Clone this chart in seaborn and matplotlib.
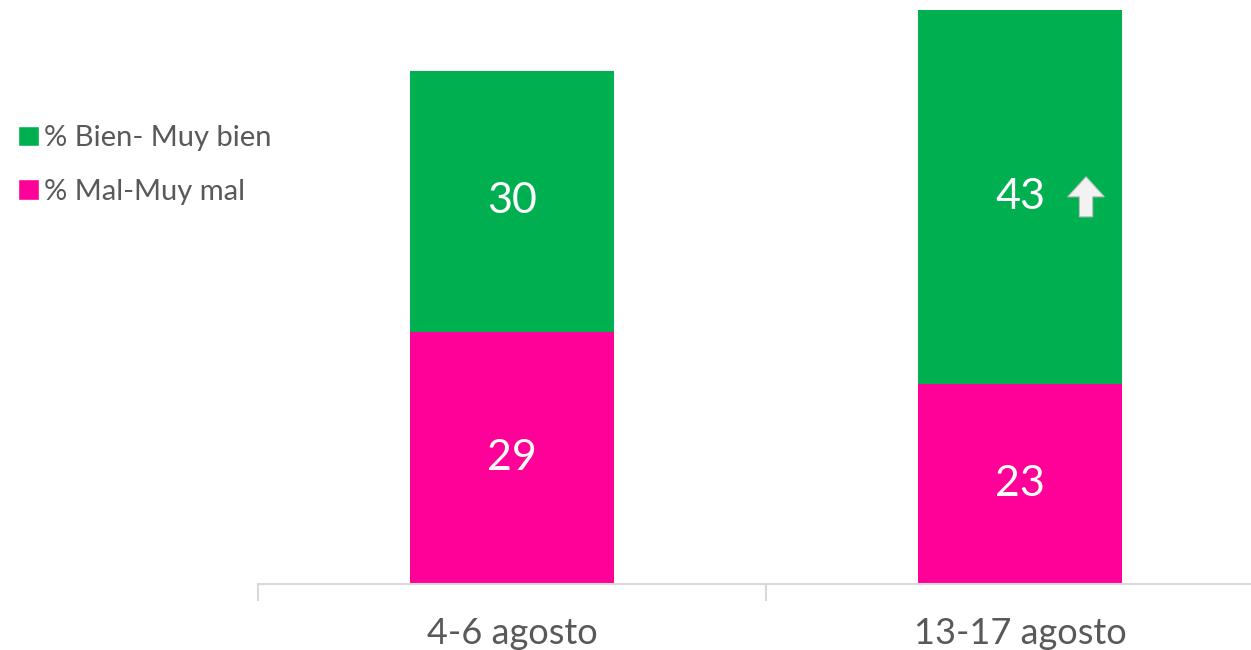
import matplotlib
matplotlib.use("Agg")
import matplotlib.pyplot as plt
import seaborn as sns
import pandas as pd
from matplotlib.patches import Patch, Polygon

sns.set_theme(style="white")
plt.rcParams['font.family'] = ['Lato', 'DejaVu Sans']

# data
periods = ["4-6 agosto", "13-17 agosto"]
mal = [29, 23]
bien = [30, 43]
labels = ["% Bien- Muy bien", "% Mal-Muy mal"]

GREEN = "#00b050"
PINK = "#ff0099"
GREY_TXT = "#595959"

df = pd.DataFrame({"periodo": periods, "mal": mal, "bien": bien})
df["total"] = df["mal"] + df["bien"]

fig = plt.figure(figsize=(12.51, 6.5), dpi=100)
ax = fig.add_axes([258 / 1251, 66 / 650, 1016 / 1251, 583 / 650])

sns.barplot(data=df, x="periodo", y="total", color=GREEN, width=0.4,
            saturation=1, linewidth=0, ax=ax)
sns.barplot(data=df, x="periodo", y="mal", color=PINK, width=0.4,
            saturation=1, linewidth=0, ax=ax)

ax.set_xlim(-0.5, 1.5)
ax.set_ylim(0, 67)
ax.set_xlabel("")
ax.set_ylabel("")
ax.set_yticks([])
for s in ["top", "right", "left"]:
    ax.spines[s].set_visible(False)
ax.spines["bottom"].set_color("#d9d9d9")
ax.spines["bottom"].set_linewidth(1.5)
ax.set_xticks([-0.5, 0.5, 1.5], minor=True)
ax.tick_params(axis="x", which="minor", length=12, width=1.5, color="#d9d9d9",
               bottom=True)
ax.tick_params(axis="x", which="major", length=0, pad=24, labelsize=26,
               labelcolor=GREY_TXT)

for i, row in df.iterrows():
    ax.text(i, row["mal"] / 2, f"{row['mal']}", ha="center", va="center",
            color="white", fontsize=31)
    ax.text(i, row["mal"] + row["bien"] / 2, f"{row['bien']}", ha="center",
            va="center", color="white", fontsize=31)

# up arrow next to the second green value
yc = df.loc[1, "mal"] + df.loc[1, "bien"] / 2
xc = 1 + 0.13
hw, sw = 0.036, 0.013
top, base, bot = yc + 2.3, yc, yc - 2.3
arrow = Polygon([(xc - sw, bot), (xc + sw, bot), (xc + sw, base),
                 (xc + hw, base), (xc, top), (xc - hw, base), (xc - sw, base)],
                closed=True, facecolor="#f2f2f2", edgecolor="#bfbfbf", lw=0.8,
                zorder=5)
ax.add_patch(arrow)

handles = [Patch(facecolor=GREEN), Patch(facecolor=PINK)]
fig.legend(handles, labels, loc="upper left", bbox_to_anchor=(-0.0065, 0.848),
           frameon=False, fontsize=21, labelcolor=GREY_TXT,
           handlelength=0.7, handleheight=0.7, handletextpad=0.2,
           labelspacing=0.95)

fig.savefig("out.png", dpi=100)
